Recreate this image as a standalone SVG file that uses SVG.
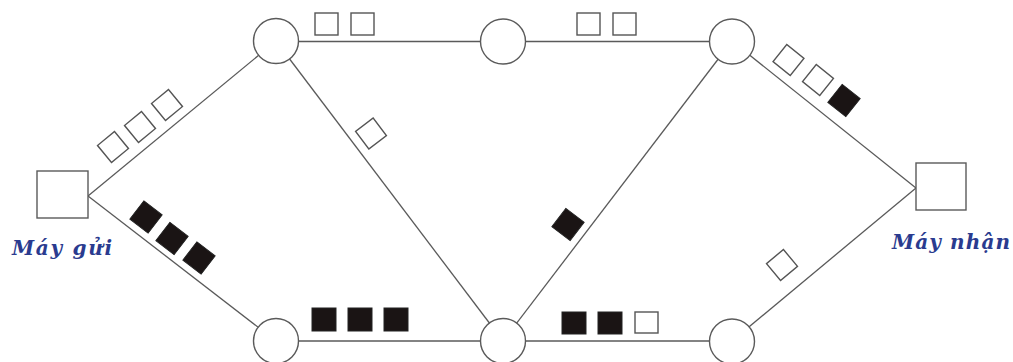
<svg xmlns="http://www.w3.org/2000/svg" xmlns:xlink="http://www.w3.org/1999/xlink" width="1013" height="362" viewBox="0 0 1013 362">
<style>
.link{stroke:#5a5a5a;stroke-width:1.3;fill:none}
.router{fill:#fff;stroke:#5a5a5a;stroke-width:1.4}
.host{fill:#fff;stroke:#5a5a5a;stroke-width:1.4}
.pw{fill:#fff;stroke:#555;stroke-width:1.4}
.pb{fill:#1a1414;stroke:#222;stroke-width:1}
.lbl{font-family:"DejaVu Serif","Liberation Serif",serif;font-style:italic;font-weight:bold;font-size:20px;fill:#2a3b8f}
</style>
<defs>
<rect id="dw" class="pw" x="-11" y="-11" width="22" height="22"/>
<rect id="db" class="pb" x="-11.5" y="-11.5" width="23" height="23"/>
</defs>
<rect width="1013" height="362" fill="#fff"/>
<g id="connectors">
<line class="link" x1="88" y1="196" x2="276" y2="41"/>
<line class="link" x1="88" y1="196" x2="276" y2="341"/>
<line class="link" x1="276" y1="41.5" x2="732" y2="41.5"/>
<line class="link" x1="276" y1="341" x2="732" y2="341"/>
<line class="link" x1="276" y1="41" x2="503" y2="341"/>
<line class="link" x1="732" y1="41" x2="503" y2="341"/>
<line class="link" x1="732" y1="41" x2="916" y2="188"/>
<line class="link" x1="732" y1="341" x2="916" y2="188"/>
</g>
<g id="packets">
<use xlink:href="#dw" transform="translate(113,147) rotate(-39.5)"/>
<use xlink:href="#dw" transform="translate(140,127) rotate(-39.5)"/>
<use xlink:href="#dw" transform="translate(167,105) rotate(-39.5)"/>
<use xlink:href="#db" transform="translate(146,217) rotate(37.6)"/>
<use xlink:href="#db" transform="translate(172,238.5) rotate(37.6)"/>
<use xlink:href="#db" transform="translate(199,258) rotate(37.6)"/>
<use xlink:href="#dw" transform="translate(371,133.5) rotate(52.9)"/>
<use xlink:href="#db" transform="translate(568,224.5) rotate(-52.6)"/>
<use xlink:href="#dw" transform="translate(788.5,60) rotate(38.6)"/>
<use xlink:href="#dw" transform="translate(818,80) rotate(38.6)"/>
<use xlink:href="#db" transform="translate(844,100.5) rotate(38.6)"/>
<use xlink:href="#dw" transform="translate(782,265) rotate(-39.7)"/>
<rect class="pw" x="315" y="13" width="23" height="22"/>
<rect class="pw" x="351" y="13" width="23" height="22"/>
<rect class="pw" x="577" y="13" width="23" height="22"/>
<rect class="pw" x="613" y="13" width="23" height="22"/>
<rect class="pb" x="312" y="308" width="24" height="23"/>
<rect class="pb" x="348" y="308" width="24" height="23"/>
<rect class="pb" x="384" y="308" width="24" height="23"/>
<rect class="pb" x="562" y="312" width="24" height="22"/>
<rect class="pb" x="598" y="312" width="24" height="22"/>
<rect class="pw" x="635" y="312" width="23" height="21"/>
</g>
<g id="sender">
<rect class="host" x="37" y="171" width="51" height="47"/>
<text class="lbl" x="12" y="255" textLength="100" lengthAdjust="spacing">Máy gửi</text>
</g>
<g id="receiver">
<rect class="host" x="916" y="163" width="50" height="47"/>
<text class="lbl" x="892" y="249" textLength="118" lengthAdjust="spacing">Máy nhận</text>
</g>
<g id="router-tl"><circle class="router" cx="276" cy="41" r="22.5"/></g>
<g id="router-tm"><circle class="router" cx="503" cy="41.5" r="22.5"/></g>
<g id="router-tr"><circle class="router" cx="732" cy="41.5" r="22.5"/></g>
<g id="router-bl"><circle class="router" cx="276" cy="341" r="22.5"/></g>
<g id="router-bm"><circle class="router" cx="503" cy="341" r="22.5"/></g>
<g id="router-br"><circle class="router" cx="732" cy="341.5" r="22.5"/></g>
</svg>
